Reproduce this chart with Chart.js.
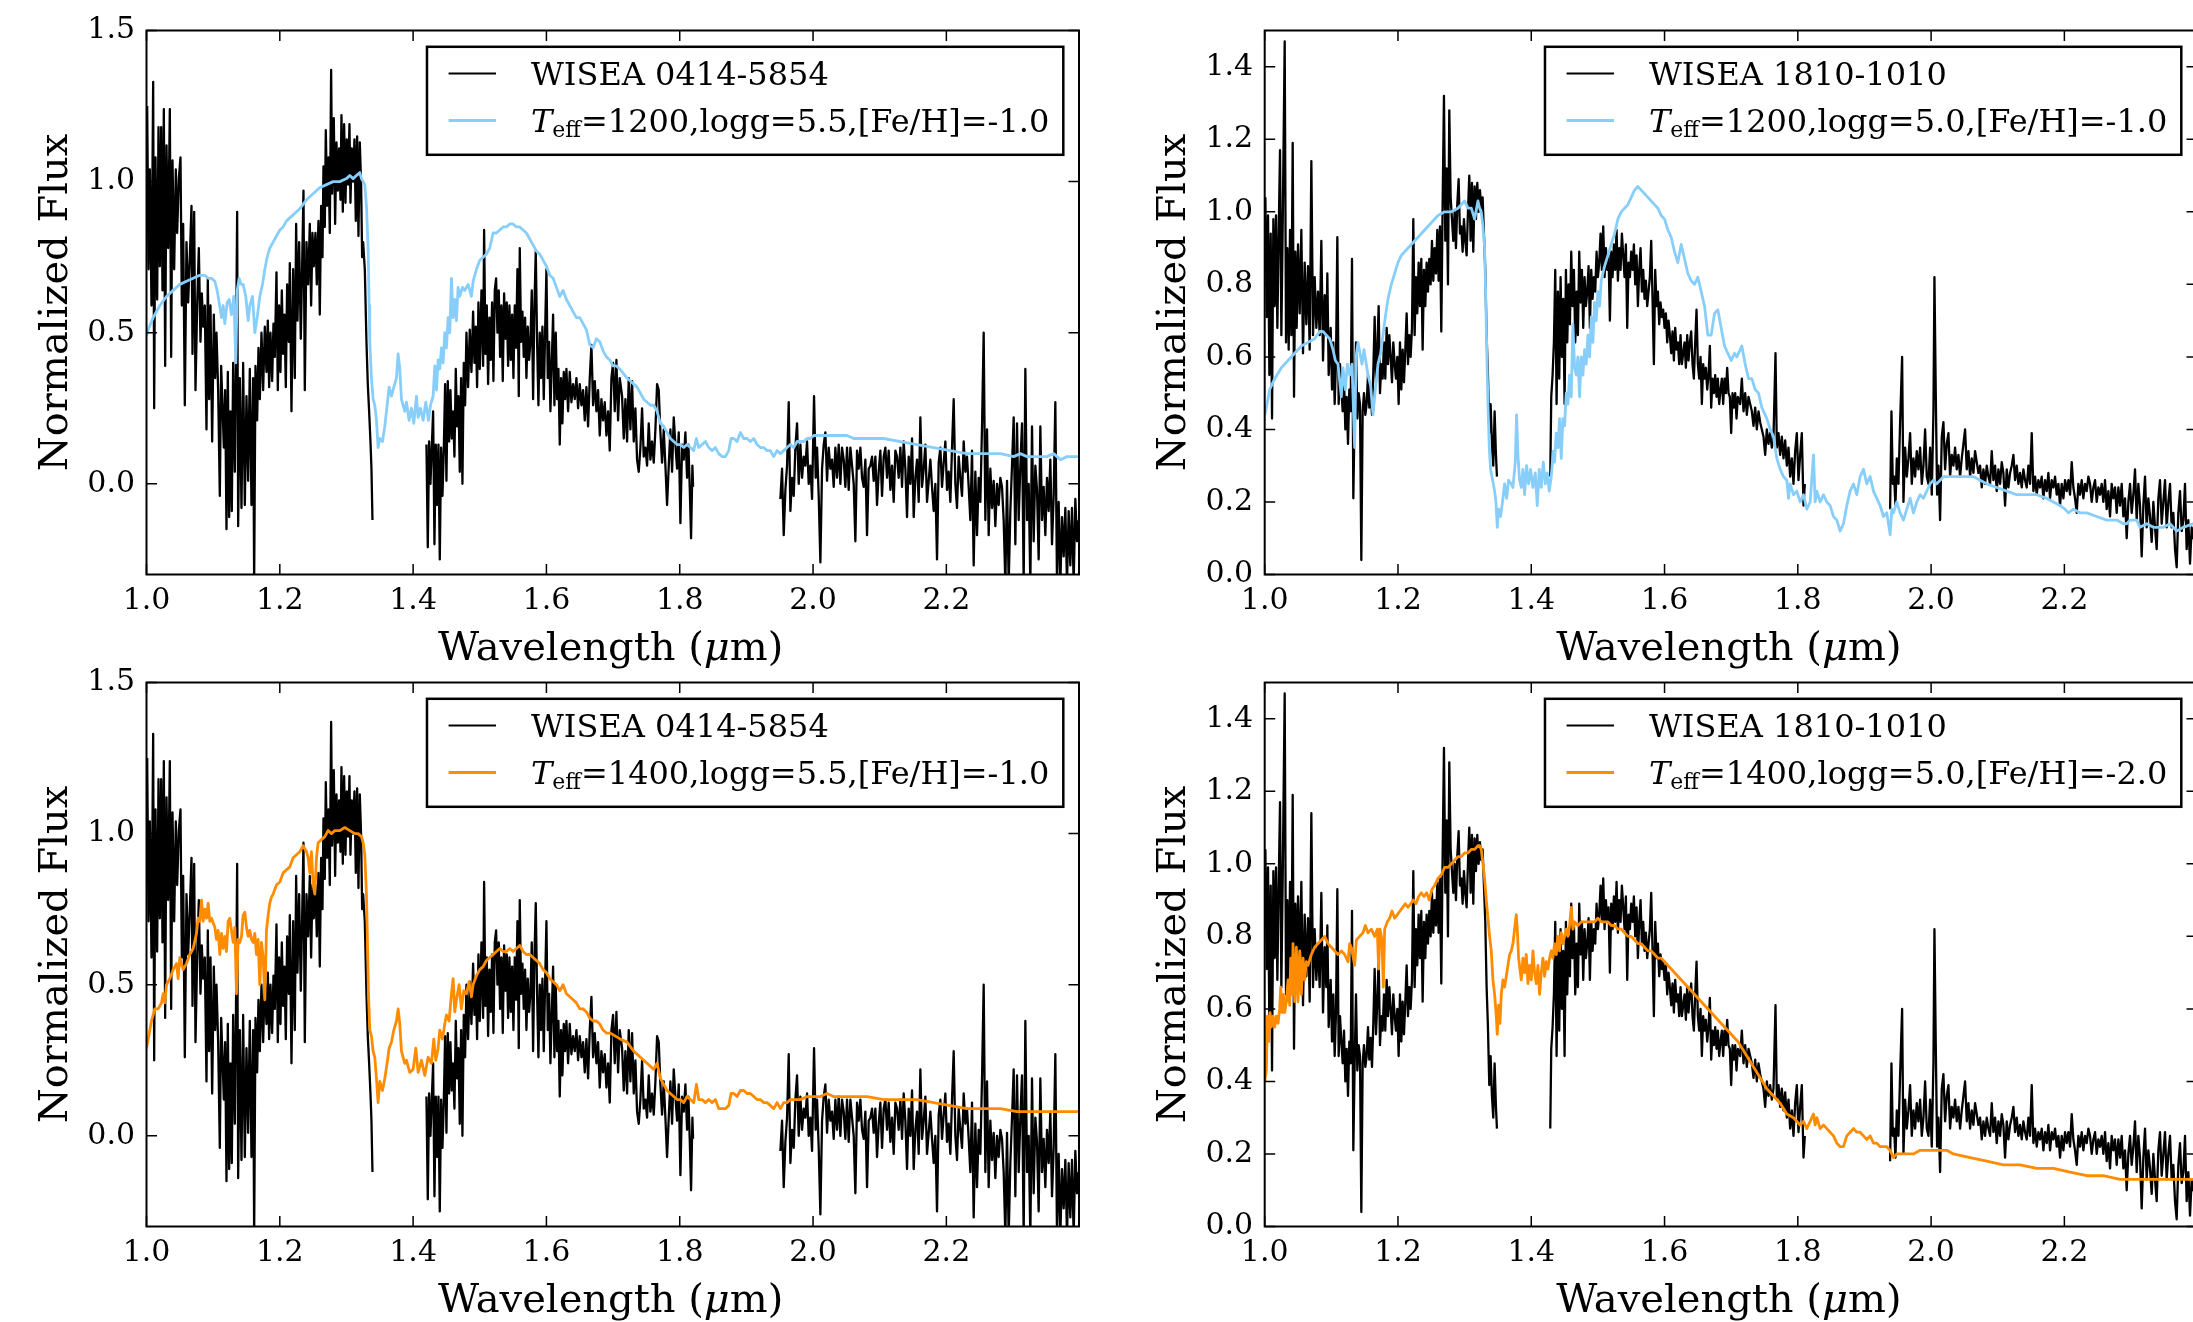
<!DOCTYPE html>
<html>
<head>
<meta charset="utf-8">
<script src="https://cdn.jsdelivr.net/npm/chart.js@4.4.1/dist/chart.umd.min.js"></script>
<style>
  html, body { margin: 0; padding: 0; background: #fff; overflow: hidden; width: 2193px; height: 1322px; }
  canvas { position: absolute; }
</style>
</head>
<body>
<canvas id="tl" width="1100" height="670" style="left:0px;top:0px"></canvas>
<canvas id="tr" width="1100" height="670" style="left:1118px;top:0px"></canvas>
<canvas id="bl" width="1100" height="670" style="left:0px;top:652px"></canvas>
<canvas id="br" width="1100" height="670" style="left:1118px;top:652px"></canvas>
<script>
// tick values
const xTicks = [1.0, 1.2, 1.4, 1.6, 1.8, 2.0, 2.2];
const yTicksLeft = [0.0, 0.5, 1.0, 1.5];
const yTicksRight = [0.0, 0.2, 0.4, 0.6, 0.8, 1.0, 1.2, 1.4];

// legend texts
const nameObsA = 'WISEA 0414-5854';
const nameObsB = 'WISEA 1810-1010';
const paramsTL = '=1200,logg=5.5,[Fe/H]=-1.0';
const paramsTR = '=1200,logg=5.0,[Fe/H]=-1.0';
const paramsBL = '=1400,logg=5.5,[Fe/H]=-1.0';
const paramsBR = '=1400,logg=5.0,[Fe/H]=-2.0';

// observed spectrum, WISEA 0414-5854 [wavelength um, normalized flux]
const wisea0414 = [
[1.001,1.25],[1.003,0.71],[1.005,1.04],[1.0075,0.59],[1.010,1.33],[1.0115,0.25],[1.0135,1.08],[1.016,0.61],[1.018,1.18],[1.020,0.72],
[1.022,1.18],[1.024,0.64],[1.026,1.24],[1.028,0.39],[1.030,1.12],[1.0325,0.78],[1.035,1.24],[1.037,0.42],[1.039,1.07],[1.0415,0.71],
[1.044,1.04],[1.046,0.83],[1.0485,1.01],[1.051,1.08],[1.053,0.59],[1.055,0.86],[1.0575,0.26],[1.060,0.80],[1.0625,0.60],[1.065,0.75],
[1.0675,0.92],[1.069,0.43],[1.0715,0.90],[1.0735,0.31],[1.076,0.59],[1.0785,0.78],[1.081,0.47],[1.083,0.63],[1.085,0.52],[1.0875,0.59],
[1.090,0.18],[1.092,0.68],[1.094,0.28],[1.096,0.59],[1.0985,0.14],[1.101,0.56],[1.103,0.35],[1.105,0.50],[1.1075,0.31],[1.110,-0.04],
[1.112,0.39],[1.114,0.26],[1.116,0.12],[1.118,0.31],[1.120,-0.15],[1.122,0.37],[1.124,-0.11],[1.126,0.24],[1.128,-0.09],[1.130,0.40],
[1.1325,0.04],[1.134,0.35],[1.136,0.90],[1.1375,-0.14],[1.140,0.35],[1.1425,-0.08],[1.145,0.40],[1.1475,-0.07],[1.150,0.29],[1.1525,0.01],
[1.155,0.38],[1.1575,-0.07],[1.160,0.35],[1.1615,-0.33],[1.1635,0.39],[1.166,0.21],[1.168,0.45],[1.170,0.28],[1.1725,0.50],[1.175,0.31],
[1.1775,0.52],[1.180,0.37],[1.182,0.54],[1.184,0.32],[1.186,0.50],[1.1885,0.34],[1.1905,0.53],[1.1925,0.42],[1.195,0.70],[1.197,0.31],
[1.199,0.59],[1.201,0.37],[1.203,0.64],[1.205,0.43],[1.207,0.56],[1.209,0.32],[1.211,0.66],[1.2135,0.47],[1.215,0.73],[1.2175,0.24],
[1.220,0.71],[1.2225,0.35],[1.2245,0.86],[1.2265,0.54],[1.229,0.80],[1.2315,0.48],[1.2335,0.72],[1.2355,0.97],[1.2375,0.31],[1.240,0.80],
[1.2425,0.66],[1.245,0.86],[1.247,0.59],[1.249,0.83],[1.251,0.72],[1.2535,0.83],[1.2555,0.66],[1.258,0.87],[1.260,0.56],[1.262,0.92],
[1.264,0.75],[1.2655,1.05],[1.2675,0.85],[1.269,1.17],[1.271,0.92],[1.273,1.08],[1.275,0.83],[1.277,1.37],[1.2785,0.96],[1.281,1.21],
[1.283,0.86],[1.285,1.13],[1.287,0.97],[1.289,1.11],[1.291,0.94],[1.2925,1.22],[1.2945,0.90],[1.2965,1.19],[1.2985,0.93],[1.3005,1.14],
[1.3025,0.99],[1.3045,1.19],[1.306,0.93],[1.308,1.11],[1.310,1.00],[1.312,1.14],[1.314,0.87],[1.316,1.15],[1.318,0.82],[1.320,1.13],
[1.322,0.99],[1.3235,0.75],[1.325,0.80],[1.3275,0.71],[1.330,0.47],[1.332,0.33],[1.334,0.24],[1.336,0.14],[1.3375,0.05],[1.339,-0.12],
[1.38,null],
[1.420,0.13],[1.422,-0.21],[1.424,0.14],[1.426,0.00],[1.428,0.12],[1.430,0.24],[1.432,-0.20],[1.434,0.13],[1.436,-0.07],[1.438,0.13],
[1.440,-0.25],[1.442,0.12],[1.444,-0.04],[1.446,0.11],[1.448,0.33],[1.450,0.01],[1.452,0.34],[1.454,0.14],[1.456,0.31],[1.458,0.15],
[1.460,0.24],[1.462,0.09],[1.464,0.38],[1.466,0.19],[1.468,0.29],[1.470,0.04],[1.472,0.35],[1.474,0.00],[1.476,0.40],[1.478,0.26],
[1.480,0.50],[1.4825,0.32],[1.485,0.51],[1.4875,0.37],[1.490,0.57],[1.492,0.40],[1.494,0.52],[1.496,0.32],[1.498,0.60],[1.500,0.38],
[1.5025,0.64],[1.505,0.39],[1.5065,0.84],[1.5085,0.43],[1.5105,0.59],[1.5125,0.33],[1.5145,0.55],[1.5165,0.41],[1.5185,0.60],[1.5205,0.34],
[1.5225,0.64],[1.5245,0.68],[1.5265,0.50],[1.5285,0.64],[1.5305,0.42],[1.5325,0.59],[1.5345,0.34],[1.5365,0.63],[1.5385,0.48],[1.5405,0.60],
[1.5425,0.39],[1.5445,0.59],[1.5465,0.41],[1.5485,0.56],[1.5505,0.35],[1.5525,0.59],[1.5545,0.45],[1.5565,0.71],[1.5585,0.29],[1.560,0.78],
[1.562,0.47],[1.564,0.57],[1.566,0.42],[1.568,0.55],[1.570,0.35],[1.572,0.52],[1.574,0.41],[1.576,0.47],[1.578,0.64],[1.580,0.28],
[1.582,0.59],[1.584,0.77],[1.586,0.47],[1.588,0.26],[1.590,0.50],[1.592,0.35],[1.594,0.52],[1.596,0.28],[1.598,0.50],[1.600,0.71],
[1.602,0.35],[1.604,0.47],[1.606,0.24],[1.608,0.40],[1.610,0.56],[1.612,0.26],[1.614,0.50],[1.616,0.28],[1.618,0.38],[1.620,0.13],
[1.622,0.35],[1.624,0.20],[1.626,0.37],[1.628,0.28],[1.630,0.38],[1.6325,0.24],[1.635,0.37],[1.6375,0.27],[1.640,0.33],[1.6425,0.28],
[1.645,0.35],[1.6475,0.25],[1.650,0.33],[1.6525,0.26],[1.655,0.31],[1.6575,0.21],[1.660,0.32],[1.6625,0.19],[1.665,0.35],[1.6675,0.46],
[1.670,0.26],[1.6725,0.34],[1.675,0.24],[1.6775,0.31],[1.680,0.16],[1.6825,0.28],[1.685,0.21],[1.6875,0.27],[1.690,0.16],[1.6925,0.24],
[1.695,0.11],[1.6975,0.35],[1.700,0.40],[1.7025,0.24],[1.705,0.41],[1.7075,0.21],[1.710,0.35],[1.7135,0.29],[1.716,0.15],[1.7185,0.28],
[1.721,0.14],[1.7235,0.35],[1.726,0.18],[1.7285,0.34],[1.731,0.14],[1.7335,0.25],[1.736,0.08],[1.7385,0.04],[1.741,0.12],[1.7435,0.25],
[1.746,0.09],[1.7485,0.12],[1.751,0.06],[1.7535,0.20],[1.756,0.08],[1.7585,0.14],[1.761,0.07],[1.7635,0.18],[1.766,0.33],[1.7685,0.31],
[1.771,0.17],[1.7735,0.07],[1.776,0.18],[1.7785,0.06],[1.781,-0.07],[1.7835,0.06],[1.786,0.18],[1.7885,0.04],[1.791,0.22],[1.7935,0.13],
[1.796,0.05],[1.7985,0.17],[1.801,-0.13],[1.8035,0.13],[1.806,0.08],[1.8085,0.17],[1.811,0.02],[1.813,0.13],[1.815,-0.01],[1.817,-0.18],
[1.819,0.06],[1.820,-0.01],
[1.885,null],
[1.951,-0.05],[1.9535,0.05],[1.956,-0.17],[1.9585,-0.02],[1.961,0.06],[1.9635,0.27],[1.966,-0.09],[1.9685,0.02],[1.971,-0.04],[1.9735,0.12],
[1.976,0.20],[1.9785,0.00],[1.981,0.13],[1.9835,0.02],[1.986,0.09],[1.9885,0.06],[1.991,0.14],[1.9935,0.00],[1.996,0.06],[1.9985,-0.05],
[2.0015,0.29],[2.004,0.02],[2.006,0.12],[2.0085,-0.04],[2.011,-0.26],[2.0135,0.05],[2.016,0.13],[2.0185,0.17],[2.021,0.01],[2.0235,0.12],
[2.026,0.05],[2.0285,0.08],[2.031,-0.01],[2.0335,0.12],[2.036,0.02],[2.0385,0.13],[2.041,0.00],[2.0435,0.12],[2.046,0.08],[2.0485,-0.01],
[2.051,0.12],[2.0535,-0.02],[2.056,0.12],[2.0585,0.06],[2.061,0.00],[2.0635,-0.19],[2.066,0.11],[2.0685,0.05],[2.071,0.12],[2.0735,0.02],
[2.076,-0.01],[2.0785,0.08],[2.081,-0.17],[2.0835,0.05],[2.086,0.06],[2.0885,0.09],[2.091,0.01],[2.0935,0.09],[2.096,-0.07],[2.0985,0.04],
[2.101,0.11],[2.1035,-0.04],[2.106,0.09],[2.1085,0.12],[2.111,0.02],[2.1135,0.11],[2.116,-0.02],[2.1185,0.06],[2.121,-0.06],[2.1235,0.11],
[2.126,0.09],[2.1285,0.02],[2.131,0.12],[2.1335,-0.01],[2.136,0.14],[2.1385,0.05],[2.141,-0.11],[2.1435,0.09],[2.146,0.00],[2.1485,0.15],
[2.151,-0.11],[2.1535,0.02],[2.156,0.08],[2.1585,-0.06],[2.161,0.22],[2.1635,-0.01],[2.166,0.05],[2.1685,0.13],[2.171,-0.06],[2.1735,0.01],
[2.176,0.08],[2.1785,-0.01],[2.181,-0.09],[2.1835,0.00],[2.186,-0.25],[2.1885,0.07],[2.191,0.12],[2.1935,-0.01],[2.196,0.07],[2.1985,0.14],
[2.201,-0.02],[2.2035,0.04],[2.206,-0.06],[2.2085,0.12],[2.211,0.28],[2.2135,0.00],[2.216,-0.08],[2.2185,0.09],[2.221,0.02],[2.2235,-0.04],
[2.226,0.14],[2.2285,0.04],[2.231,0.09],[2.2335,-0.01],[2.236,-0.12],[2.2385,0.11],[2.241,-0.27],[2.2435,0.04],[2.246,-0.17],[2.2485,0.02],
[2.251,-0.06],[2.2535,0.19],[2.256,0.50],[2.2585,-0.12],[2.261,0.18],[2.2635,-0.17],[2.266,0.05],[2.2685,-0.08],[2.271,0.01],[2.2735,-0.14],
[2.276,0.00],[2.2785,-0.07],[2.281,0.02],[2.2835,-0.01],[2.286,-0.12],[2.2885,-0.33],[2.291,0.01],[2.2935,-0.33],[2.296,-0.09],[2.2985,0.06],
[2.301,0.22],[2.3035,-0.20],[2.306,0.20],[2.3085,-0.12],[2.311,0.06],[2.3135,0.20],[2.316,-0.33],[2.3185,0.38],[2.321,-0.12],[2.3235,0.00],
[2.326,-0.33],[2.3285,0.19],[2.331,-0.19],[2.3335,0.06],[2.336,-0.02],[2.3385,-0.25],[2.341,0.19],[2.3435,-0.12],[2.346,-0.01],[2.3485,-0.17],
[2.351,0.02],[2.3535,-0.09],[2.356,0.08],[2.3585,-0.20],[2.361,-0.04],[2.3635,0.27],[2.366,-0.33],[2.3685,-0.06],[2.371,-0.33],[2.3735,-0.11],
[2.376,-0.24],[2.3785,-0.08],[2.381,-0.33],[2.3835,-0.09],[2.386,-0.27],[2.3885,-0.08],[2.391,-0.33],[2.3935,-0.05],[2.396,-0.19],[2.3985,-0.12]
];

// observed spectrum, WISEA 1810-1010
const wisea1810 = [
[1.001,1.04],[1.003,0.71],[1.005,0.99],[1.007,0.55],[1.009,0.94],[1.011,0.43],[1.013,0.98],[1.015,0.74],[1.017,0.99],[1.019,0.68],
[1.021,0.94],[1.023,1.17],[1.025,0.66],[1.027,0.96],[1.030,1.47],[1.032,0.64],[1.034,0.90],[1.036,0.62],[1.038,0.95],[1.040,0.66],
[1.042,1.19],[1.044,0.49],[1.046,0.89],[1.048,0.68],[1.050,0.91],[1.0525,0.72],[1.055,0.95],[1.0575,0.61],[1.060,0.86],[1.0625,0.69],
[1.065,0.85],[1.0675,0.62],[1.070,1.14],[1.0725,0.66],[1.075,0.82],[1.0775,0.68],[1.080,0.78],[1.0825,0.66],[1.085,0.92],[1.0875,0.59],
[1.090,0.77],[1.0925,0.66],[1.094,0.83],[1.096,0.55],[1.099,0.68],[1.101,0.51],[1.103,0.64],[1.105,0.47],[1.107,0.59],[1.109,0.93],
[1.111,0.47],[1.113,0.58],[1.115,0.51],[1.117,0.45],[1.119,0.54],[1.121,0.40],[1.123,0.49],[1.125,0.36],[1.127,0.51],[1.129,0.45],
[1.131,0.87],[1.133,0.21],[1.135,0.45],[1.137,0.64],[1.139,0.43],[1.141,0.50],[1.143,0.47],[1.145,0.04],[1.147,0.45],[1.149,0.50],
[1.151,0.44],[1.153,0.47],[1.155,0.55],[1.157,0.46],[1.159,0.52],[1.161,0.44],[1.163,0.56],[1.165,0.71],[1.167,0.53],[1.169,0.62],
[1.171,0.74],[1.173,0.50],[1.175,0.58],[1.177,0.54],[1.179,0.64],[1.181,0.54],[1.183,0.68],[1.185,0.58],[1.187,0.66],[1.189,0.60],
[1.191,0.53],[1.193,0.64],[1.195,0.58],[1.197,0.54],[1.199,0.60],[1.201,0.47],[1.203,0.64],[1.205,0.51],[1.207,0.62],[1.209,0.53],
[1.211,0.62],[1.213,0.72],[1.215,0.58],[1.217,0.66],[1.219,0.60],[1.221,0.68],[1.223,0.98],[1.225,0.66],[1.227,0.82],[1.229,0.72],
[1.231,0.86],[1.233,0.74],[1.235,0.87],[1.237,0.62],[1.239,0.84],[1.241,0.74],[1.243,0.86],[1.245,0.78],[1.247,0.87],[1.249,0.80],
[1.251,0.92],[1.253,0.81],[1.255,0.90],[1.257,0.83],[1.259,0.95],[1.261,0.81],[1.263,0.96],[1.265,0.67],[1.267,1.02],[1.269,1.32],
[1.271,0.92],[1.273,1.12],[1.275,0.80],[1.277,1.28],[1.279,1.04],[1.281,0.98],[1.283,0.92],[1.285,1.00],[1.287,0.90],[1.289,1.02],
[1.291,1.09],[1.293,0.94],[1.295,0.96],[1.297,0.89],[1.299,0.98],[1.301,0.92],[1.303,0.88],[1.305,1.00],[1.307,1.10],[1.309,0.92],
[1.311,1.08],[1.313,0.89],[1.315,1.07],[1.317,0.98],[1.319,1.08],[1.321,1.00],[1.323,1.06],[1.325,1.01],[1.327,1.04],[1.329,0.94],
[1.331,0.84],[1.333,0.66],[1.335,0.55],[1.337,0.39],[1.339,0.47],[1.341,0.36],[1.343,0.30],[1.345,0.45],[1.347,0.33],[1.3485,0.27],
[1.38,null],
[1.4285,0.27],[1.430,0.49],[1.432,0.55],[1.434,0.64],[1.436,0.84],[1.438,0.47],[1.440,0.78],[1.442,0.54],[1.444,0.82],[1.446,0.60],
[1.448,0.76],[1.450,0.47],[1.452,0.84],[1.454,0.64],[1.456,0.80],[1.458,0.69],[1.460,0.89],[1.462,0.74],[1.464,0.84],[1.466,0.64],
[1.468,0.78],[1.470,0.66],[1.472,0.89],[1.474,0.75],[1.476,0.84],[1.478,0.68],[1.480,0.82],[1.482,0.74],[1.484,0.78],[1.486,0.85],
[1.488,0.68],[1.490,0.84],[1.492,0.76],[1.494,0.82],[1.496,0.78],[1.498,0.89],[1.500,0.82],[1.502,0.86],[1.504,0.94],[1.506,0.84],
[1.508,0.96],[1.510,0.82],[1.512,0.90],[1.514,0.84],[1.516,0.88],[1.518,0.70],[1.520,0.89],[1.522,0.82],[1.524,0.91],[1.526,0.84],
[1.528,0.95],[1.530,0.81],[1.532,0.90],[1.534,0.84],[1.536,0.94],[1.538,0.88],[1.540,0.82],[1.542,0.91],[1.544,0.68],[1.546,0.86],
[1.548,0.82],[1.550,0.89],[1.552,0.84],[1.554,0.91],[1.556,0.80],[1.558,0.88],[1.560,0.74],[1.562,0.84],[1.564,0.90],[1.566,0.78],
[1.568,0.84],[1.570,0.76],[1.572,0.81],[1.574,0.74],[1.576,0.78],[1.578,0.82],[1.580,0.92],[1.582,0.76],[1.584,0.58],[1.586,0.84],
[1.588,0.74],[1.590,0.78],[1.592,0.69],[1.594,0.75],[1.596,0.71],[1.598,0.73],[1.600,0.68],[1.602,0.72],[1.604,0.64],[1.606,0.70],
[1.608,0.66],[1.610,0.61],[1.612,0.67],[1.614,0.59],[1.616,0.68],[1.618,0.62],[1.620,0.64],[1.622,0.58],[1.624,0.66],[1.626,0.58],
[1.628,0.61],[1.630,0.64],[1.632,0.57],[1.634,0.66],[1.636,0.59],[1.638,0.64],[1.640,0.67],[1.642,0.58],[1.644,0.54],[1.646,0.64],
[1.648,0.73],[1.650,0.58],[1.652,0.54],[1.654,0.60],[1.656,0.47],[1.658,0.58],[1.660,0.54],[1.662,0.57],[1.664,0.51],[1.666,0.55],
[1.668,0.63],[1.670,0.46],[1.672,0.54],[1.674,0.50],[1.676,0.55],[1.678,0.49],[1.680,0.54],[1.682,0.47],[1.684,0.51],[1.686,0.54],
[1.688,0.47],[1.690,0.54],[1.692,0.50],[1.694,0.57],[1.696,0.50],[1.698,0.49],[1.700,0.39],[1.702,0.50],[1.704,0.46],[1.706,0.50],
[1.708,0.43],[1.710,0.49],[1.7135,0.47],[1.716,0.54],[1.7185,0.45],[1.721,0.50],[1.7235,0.44],[1.726,0.49],[1.7285,0.47],[1.731,0.45],
[1.7335,0.41],[1.736,0.46],[1.7385,0.40],[1.741,0.45],[1.7435,0.42],[1.746,0.40],[1.7485,0.38],[1.751,0.33],[1.7535,0.40],[1.756,0.36],
[1.7585,0.39],[1.761,0.35],[1.7635,0.38],[1.7665,0.61],[1.7685,0.35],[1.771,0.39],[1.7735,0.33],[1.776,0.38],[1.7785,0.32],[1.781,0.37],
[1.7835,0.30],[1.786,0.35],[1.7885,0.27],[1.791,0.32],[1.7935,0.25],[1.796,0.34],[1.7985,0.39],[1.801,0.26],[1.8035,0.33],[1.806,0.39],
[1.8085,0.19],[1.8105,0.25],
[1.87,null],
[1.9385,0.18],[1.9405,0.45],[1.9425,0.25],[1.9445,0.27],[1.9465,0.19],[1.9485,0.32],[1.951,0.25],[1.9535,0.42],[1.9565,0.60],[1.9585,0.20],
[1.961,0.35],[1.9635,0.27],[1.966,0.32],[1.9685,0.39],[1.971,0.25],[1.9735,0.32],[1.976,0.27],[1.9785,0.34],[1.981,0.29],[1.9835,0.35],
[1.986,0.25],[1.9885,0.30],[1.991,0.40],[1.9935,0.27],[1.996,0.25],[1.9985,0.35],[2.001,0.22],[2.0035,0.45],[2.005,0.82],[2.007,0.50],
[2.009,0.22],[2.011,0.30],[2.0135,0.15],[2.016,0.38],[2.0185,0.42],[2.021,0.29],[2.0235,0.36],[2.026,0.39],[2.0285,0.27],[2.031,0.33],
[2.0335,0.30],[2.036,0.35],[2.0385,0.29],[2.041,0.33],[2.0435,0.27],[2.046,0.32],[2.0485,0.36],[2.051,0.40],[2.0535,0.29],[2.056,0.34],
[2.0585,0.27],[2.061,0.32],[2.0635,0.28],[2.066,0.34],[2.0685,0.31],[2.071,0.28],[2.0735,0.30],[2.076,0.24],[2.0785,0.29],[2.081,0.25],
[2.0835,0.30],[2.086,0.27],[2.0885,0.25],[2.091,0.34],[2.0935,0.26],[2.096,0.30],[2.0985,0.23],[2.101,0.29],[2.1035,0.25],[2.106,0.31],
[2.1085,0.28],[2.111,0.19],[2.1135,0.29],[2.116,0.24],[2.1185,0.28],[2.121,0.30],[2.1235,0.33],[2.126,0.26],[2.1285,0.30],[2.131,0.25],
[2.1335,0.28],[2.136,0.24],[2.1385,0.29],[2.141,0.26],[2.1435,0.24],[2.146,0.30],[2.1485,0.25],[2.151,0.39],[2.1535,0.23],[2.156,0.27],
[2.1585,0.22],[2.161,0.26],[2.1635,0.24],[2.166,0.27],[2.1685,0.21],[2.171,0.26],[2.1735,0.23],[2.176,0.28],[2.1785,0.21],[2.181,0.26],
[2.1835,0.24],[2.186,0.27],[2.1885,0.22],[2.191,0.25],[2.1935,0.19],[2.196,0.25],[2.1985,0.21],[2.201,0.26],[2.2035,0.23],[2.206,0.26],
[2.2085,0.22],[2.211,0.31],[2.2135,0.24],[2.216,0.21],[2.2185,0.17],[2.221,0.25],[2.2235,0.22],[2.226,0.26],[2.2285,0.21],[2.231,0.25],
[2.2335,0.23],[2.236,0.27],[2.2385,0.25],[2.241,0.20],[2.2435,0.24],[2.246,0.26],[2.2485,0.20],[2.251,0.24],[2.2535,0.22],[2.256,0.25],
[2.2585,0.20],[2.261,0.26],[2.2635,0.18],[2.266,0.23],[2.2685,0.16],[2.271,0.25],[2.2735,0.21],[2.276,0.24],[2.2785,0.17],[2.281,0.24],
[2.2835,0.19],[2.286,0.25],[2.2885,0.16],[2.291,0.21],[2.2935,0.10],[2.296,0.20],[2.2985,0.25],[2.301,0.17],[2.3035,0.22],[2.306,0.29],
[2.3085,0.15],[2.311,0.25],[2.3135,0.19],[2.316,0.05],[2.3185,0.19],[2.321,0.27],[2.3235,0.13],[2.326,0.21],[2.3285,0.16],[2.331,0.09],
[2.3335,0.20],[2.336,0.13],[2.3385,0.07],[2.341,0.21],[2.3435,0.26],[2.346,0.14],[2.3485,0.20],[2.351,0.26],[2.3535,0.13],[2.356,0.20],
[2.3585,0.25],[2.361,0.13],[2.3635,0.17],[2.366,0.07],[2.3685,0.02],[2.371,0.17],[2.3735,0.23],[2.376,0.12],[2.3785,0.15],[2.381,0.25],
[2.3835,0.07],[2.386,0.15],[2.3885,0.03],[2.391,0.13],[2.393,0.10],[2.397,0.16]
];

// model, Teff=1200, logg=5.5, [Fe/H]=-1.0
const model1200g55 = [
[1.000,0.49],[1.0025,0.51],[1.010,0.55],[1.020,0.59],[1.030,0.62],[1.040,0.64],[1.050,0.66],[1.060,0.67],[1.070,0.68],[1.080,0.69],
[1.0875,0.69],[1.0925,0.68],[1.0975,0.68],[1.1025,0.67],[1.106,0.64],[1.109,0.60],[1.1125,0.55],[1.115,0.59],[1.1175,0.53],[1.121,0.60],
[1.124,0.61],[1.1275,0.56],[1.131,0.62],[1.134,0.40],[1.136,0.64],[1.139,0.68],[1.142,0.66],[1.145,0.66],[1.149,0.62],[1.1525,0.54],
[1.155,0.59],[1.159,0.62],[1.1625,0.50],[1.166,0.55],[1.170,0.62],[1.174,0.66],[1.1775,0.71],[1.181,0.75],[1.185,0.78],[1.190,0.80],
[1.195,0.82],[1.200,0.84],[1.205,0.85],[1.210,0.87],[1.220,0.89],[1.230,0.91],[1.240,0.94],[1.250,0.96],[1.260,0.98],[1.270,0.99],
[1.280,1.00],[1.290,1.00],[1.300,1.01],[1.305,1.02],[1.310,1.01],[1.315,1.02],[1.320,1.03],[1.3225,1.01],[1.325,1.00],[1.3275,0.99],
[1.330,0.92],[1.3325,0.78],[1.334,0.59],[1.335,0.47],[1.3375,0.35],[1.340,0.28],[1.3425,0.26],[1.345,0.21],[1.3475,0.12],[1.350,0.15],
[1.354,0.14],[1.3575,0.19],[1.361,0.26],[1.364,0.32],[1.3675,0.29],[1.371,0.32],[1.375,0.35],[1.3775,0.43],[1.380,0.38],[1.3825,0.28],
[1.385,0.26],[1.3875,0.24],[1.390,0.27],[1.394,0.21],[1.3975,0.25],[1.401,0.20],[1.405,0.29],[1.4075,0.22],[1.411,0.25],[1.415,0.21],
[1.419,0.27],[1.423,0.21],[1.426,0.26],[1.430,0.29],[1.4325,0.39],[1.435,0.31],[1.4375,0.41],[1.440,0.38],[1.4425,0.45],[1.445,0.40],
[1.4475,0.50],[1.450,0.45],[1.4525,0.55],[1.455,0.50],[1.4575,0.68],[1.460,0.55],[1.4625,0.61],[1.465,0.54],[1.4675,0.65],[1.470,0.62],
[1.474,0.65],[1.4775,0.64],[1.4825,0.66],[1.4875,0.62],[1.490,0.67],[1.495,0.71],[1.500,0.74],[1.505,0.75],[1.510,0.76],[1.515,0.78],
[1.520,0.83],[1.525,0.83],[1.530,0.84],[1.535,0.85],[1.540,0.85],[1.545,0.86],[1.550,0.86],[1.555,0.85],[1.560,0.85],[1.565,0.84],
[1.570,0.83],[1.575,0.81],[1.580,0.79],[1.585,0.77],[1.590,0.76],[1.595,0.74],[1.600,0.72],[1.605,0.69],[1.610,0.68],[1.615,0.65],
[1.620,0.62],[1.625,0.64],[1.630,0.61],[1.635,0.59],[1.640,0.57],[1.645,0.55],[1.650,0.55],[1.655,0.53],[1.660,0.51],[1.665,0.46],
[1.670,0.45],[1.675,0.48],[1.680,0.47],[1.685,0.44],[1.690,0.42],[1.695,0.41],[1.700,0.39],[1.705,0.39],[1.710,0.38],[1.721,0.35],
[1.726,0.34],[1.731,0.33],[1.736,0.32],[1.741,0.30],[1.746,0.28],[1.751,0.27],[1.756,0.26],[1.761,0.26],[1.766,0.24],[1.771,0.20],
[1.776,0.19],[1.781,0.17],[1.786,0.15],[1.791,0.14],[1.796,0.13],[1.801,0.13],[1.806,0.12],[1.811,0.13],[1.816,0.12],[1.821,0.11],
[1.825,0.15],[1.8285,0.12],[1.8335,0.13],[1.8385,0.14],[1.8435,0.12],[1.8485,0.11],[1.8535,0.12],[1.8585,0.10],[1.8635,0.09],[1.8685,0.09],
[1.8735,0.11],[1.877,0.15],[1.881,0.15],[1.886,0.14],[1.891,0.17],[1.896,0.15],[1.901,0.15],[1.906,0.14],[1.911,0.15],[1.916,0.13],
[1.921,0.12],[1.926,0.12],[1.931,0.11],[1.936,0.11],[1.941,0.09],[1.946,0.11],[1.951,0.10],[1.956,0.11],[1.961,0.12],[1.966,0.13],
[1.971,0.12],[1.976,0.14],[1.981,0.14],[1.986,0.14],[1.991,0.15],[1.996,0.15],[2.001,0.16],[2.011,0.16],[2.021,0.16],[2.031,0.16],
[2.041,0.16],[2.051,0.16],[2.061,0.15],[2.081,0.15],[2.106,0.15],[2.131,0.14],[2.156,0.13],[2.181,0.12],[2.206,0.11],[2.231,0.10],
[2.256,0.10],[2.281,0.10],[2.301,0.09],[2.311,0.10],[2.321,0.09],[2.331,0.09],[2.351,0.09],[2.361,0.10],[2.371,0.08],[2.381,0.09],
[2.399,0.09]
];

// model, Teff=1400, logg=5.5, [Fe/H]=-1.0
const model1400g55 = [
[1.000,0.29],[1.0025,0.32],[1.0075,0.38],[1.0125,0.42],[1.0175,0.42],[1.0225,0.44],[1.025,0.47],[1.0275,0.44],[1.030,0.50],[1.035,0.52],
[1.040,0.55],[1.045,0.57],[1.0475,0.52],[1.050,0.59],[1.055,0.55],[1.060,0.57],[1.065,0.60],[1.070,0.62],[1.075,0.67],[1.0775,0.72],
[1.080,0.71],[1.0825,0.78],[1.085,0.71],[1.0875,0.75],[1.090,0.72],[1.0925,0.77],[1.095,0.71],[1.0975,0.72],[1.1025,0.69],[1.105,0.65],
[1.1075,0.68],[1.110,0.60],[1.1125,0.67],[1.115,0.62],[1.1175,0.66],[1.120,0.61],[1.1225,0.71],[1.125,0.72],[1.1275,0.68],[1.130,0.64],
[1.1325,0.69],[1.135,0.47],[1.1375,0.65],[1.140,0.64],[1.1425,0.66],[1.145,0.73],[1.1475,0.74],[1.150,0.69],[1.1525,0.66],[1.155,0.68],
[1.1575,0.65],[1.160,0.64],[1.1625,0.67],[1.165,0.60],[1.1675,0.65],[1.170,0.50],[1.1725,0.64],[1.175,0.59],[1.1775,0.45],[1.180,0.68],
[1.1825,0.73],[1.185,0.77],[1.1875,0.79],[1.190,0.80],[1.195,0.83],[1.200,0.84],[1.205,0.87],[1.210,0.88],[1.215,0.89],[1.220,0.92],
[1.225,0.93],[1.230,0.94],[1.235,0.96],[1.240,0.94],[1.2425,0.92],[1.245,0.87],[1.2475,0.94],[1.250,0.83],[1.2525,0.80],[1.255,0.92],
[1.2575,0.97],[1.2625,0.98],[1.2675,0.99],[1.2725,1.01],[1.2775,1.00],[1.2825,1.01],[1.290,1.01],[1.2975,1.02],[1.305,1.01],[1.3125,1.00],
[1.3175,1.00],[1.3225,0.99],[1.325,0.97],[1.3275,0.93],[1.330,0.80],[1.3315,0.64],[1.333,0.47],[1.335,0.35],[1.3375,0.33],[1.340,0.28],
[1.3425,0.26],[1.345,0.19],[1.3475,0.11],[1.350,0.18],[1.354,0.15],[1.3575,0.19],[1.361,0.24],[1.364,0.29],[1.3675,0.31],[1.371,0.35],
[1.375,0.38],[1.3775,0.42],[1.380,0.37],[1.3825,0.28],[1.385,0.26],[1.3875,0.24],[1.390,0.25],[1.395,0.21],[1.400,0.22],[1.404,0.29],
[1.4075,0.21],[1.4125,0.25],[1.4175,0.20],[1.4225,0.26],[1.4275,0.24],[1.431,0.32],[1.434,0.25],[1.4375,0.29],[1.440,0.35],[1.444,0.32],
[1.4475,0.37],[1.450,0.40],[1.454,0.38],[1.4575,0.47],[1.460,0.52],[1.4625,0.41],[1.465,0.45],[1.469,0.50],[1.4725,0.42],[1.476,0.48],
[1.480,0.47],[1.484,0.51],[1.4875,0.46],[1.490,0.50],[1.495,0.53],[1.500,0.55],[1.505,0.56],[1.510,0.58],[1.515,0.59],[1.520,0.60],
[1.525,0.61],[1.530,0.62],[1.535,0.61],[1.540,0.61],[1.545,0.62],[1.550,0.61],[1.555,0.62],[1.560,0.63],[1.565,0.61],[1.570,0.60],
[1.575,0.60],[1.580,0.59],[1.585,0.58],[1.590,0.57],[1.595,0.55],[1.600,0.54],[1.605,0.52],[1.610,0.51],[1.615,0.50],[1.620,0.48],
[1.625,0.50],[1.630,0.47],[1.635,0.46],[1.640,0.45],[1.645,0.44],[1.650,0.42],[1.655,0.42],[1.660,0.41],[1.665,0.39],[1.670,0.38],
[1.675,0.38],[1.680,0.37],[1.685,0.35],[1.690,0.34],[1.696,0.34],[1.711,0.32],[1.721,0.31],[1.731,0.28],[1.741,0.26],[1.751,0.24],
[1.761,0.22],[1.766,0.24],[1.771,0.19],[1.776,0.17],[1.781,0.15],[1.786,0.14],[1.791,0.13],[1.796,0.12],[1.801,0.12],[1.806,0.11],
[1.811,0.13],[1.816,0.12],[1.821,0.11],[1.825,0.17],[1.8285,0.12],[1.8335,0.12],[1.8385,0.11],[1.8435,0.12],[1.8485,0.11],[1.8535,0.12],
[1.8585,0.09],[1.8635,0.09],[1.8685,0.09],[1.8735,0.10],[1.877,0.14],[1.881,0.14],[1.886,0.13],[1.891,0.15],[1.896,0.15],[1.901,0.14],
[1.906,0.14],[1.911,0.13],[1.916,0.12],[1.921,0.12],[1.926,0.11],[1.931,0.11],[1.936,0.10],[1.941,0.09],[1.946,0.11],[1.951,0.09],
[1.956,0.11],[1.961,0.11],[1.966,0.12],[1.971,0.12],[1.981,0.12],[1.991,0.13],[2.001,0.13],[2.011,0.13],[2.021,0.14],[2.031,0.13],
[2.056,0.13],[2.081,0.13],[2.106,0.12],[2.131,0.12],[2.156,0.12],[2.181,0.11],[2.206,0.10],[2.231,0.09],[2.256,0.09],[2.281,0.09],
[2.306,0.08],[2.331,0.08],[2.356,0.08],[2.381,0.08],[2.399,0.08]
];

// model, Teff=1200, logg=5.0, [Fe/H]=-1.0
const model1200g50 = [
[1.000,0.44],[1.0025,0.46],[1.0075,0.51],[1.015,0.54],[1.025,0.57],[1.035,0.59],[1.045,0.61],[1.055,0.63],[1.065,0.64],[1.075,0.65],
[1.0825,0.67],[1.0875,0.67],[1.0925,0.66],[1.0975,0.65],[1.1025,0.62],[1.106,0.59],[1.110,0.58],[1.115,0.49],[1.1175,0.57],[1.121,0.51],
[1.124,0.58],[1.1275,0.55],[1.131,0.58],[1.135,0.35],[1.137,0.60],[1.140,0.64],[1.143,0.61],[1.146,0.58],[1.149,0.62],[1.1525,0.58],
[1.155,0.55],[1.159,0.52],[1.1625,0.44],[1.166,0.51],[1.170,0.58],[1.174,0.61],[1.1775,0.66],[1.181,0.71],[1.185,0.76],[1.190,0.80],
[1.195,0.83],[1.200,0.86],[1.205,0.88],[1.210,0.89],[1.220,0.91],[1.230,0.93],[1.240,0.95],[1.250,0.97],[1.260,0.99],[1.270,1.00],
[1.280,1.00],[1.290,1.01],[1.300,1.03],[1.305,1.01],[1.310,1.01],[1.315,0.98],[1.320,1.03],[1.3225,1.01],[1.325,1.00],[1.3275,0.96],
[1.330,0.90],[1.3315,0.78],[1.333,0.64],[1.335,0.47],[1.337,0.35],[1.339,0.29],[1.341,0.27],[1.343,0.25],[1.345,0.23],[1.347,0.20],
[1.349,0.13],[1.351,0.18],[1.354,0.16],[1.3575,0.21],[1.360,0.25],[1.363,0.21],[1.366,0.26],[1.370,0.25],[1.3725,0.24],[1.376,0.31],
[1.378,0.44],[1.380,0.33],[1.3825,0.26],[1.385,0.24],[1.3875,0.29],[1.390,0.22],[1.393,0.30],[1.396,0.25],[1.399,0.29],[1.4025,0.24],
[1.406,0.28],[1.409,0.19],[1.412,0.29],[1.415,0.24],[1.418,0.31],[1.421,0.25],[1.424,0.28],[1.427,0.23],[1.430,0.27],[1.433,0.34],
[1.435,0.31],[1.4375,0.39],[1.440,0.35],[1.4425,0.43],[1.445,0.32],[1.4475,0.43],[1.450,0.41],[1.4525,0.50],[1.455,0.47],[1.4575,0.55],
[1.460,0.49],[1.4625,0.69],[1.465,0.57],[1.4675,0.55],[1.470,0.60],[1.4725,0.49],[1.475,0.60],[1.4775,0.55],[1.480,0.62],[1.4825,0.58],
[1.485,0.66],[1.4875,0.60],[1.490,0.71],[1.4925,0.64],[1.495,0.75],[1.4975,0.70],[1.500,0.78],[1.5025,0.74],[1.505,0.81],[1.510,0.85],
[1.515,0.88],[1.520,0.91],[1.525,0.94],[1.530,0.98],[1.535,1.00],[1.540,1.01],[1.545,1.02],[1.550,1.04],[1.555,1.06],[1.560,1.07],
[1.565,1.06],[1.570,1.05],[1.575,1.04],[1.580,1.03],[1.585,1.02],[1.590,1.01],[1.595,0.99],[1.600,0.98],[1.605,0.95],[1.610,0.93],
[1.615,0.89],[1.620,0.86],[1.625,0.91],[1.630,0.87],[1.635,0.83],[1.640,0.81],[1.645,0.80],[1.650,0.82],[1.655,0.78],[1.660,0.74],
[1.665,0.66],[1.670,0.66],[1.675,0.72],[1.680,0.73],[1.685,0.68],[1.690,0.63],[1.695,0.61],[1.700,0.59],[1.705,0.61],[1.7085,0.60],
[1.716,0.63],[1.721,0.58],[1.726,0.54],[1.731,0.54],[1.736,0.51],[1.741,0.50],[1.746,0.46],[1.7535,0.43],[1.7585,0.40],[1.7635,0.38],
[1.7685,0.32],[1.7735,0.29],[1.7785,0.27],[1.7835,0.26],[1.786,0.21],[1.7885,0.25],[1.7935,0.22],[1.7985,0.23],[1.8035,0.20],[1.8085,0.22],
[1.8135,0.18],[1.8185,0.20],[1.8235,0.33],[1.826,0.20],[1.8285,0.23],[1.8335,0.20],[1.8385,0.22],[1.8435,0.20],[1.8485,0.19],[1.8535,0.16],
[1.8585,0.15],[1.8635,0.12],[1.8685,0.14],[1.8735,0.19],[1.8785,0.23],[1.8835,0.25],[1.8885,0.22],[1.8935,0.27],[1.8985,0.29],[1.9035,0.25],
[1.9085,0.27],[1.9135,0.23],[1.9185,0.21],[1.9235,0.19],[1.9285,0.16],[1.9335,0.17],[1.9385,0.11],[1.941,0.18],[1.9435,0.17],[1.9485,0.20],
[1.9535,0.17],[1.9585,0.15],[1.9635,0.18],[1.9685,0.21],[1.9735,0.17],[1.9785,0.20],[1.9835,0.22],[1.9885,0.21],[1.9935,0.23],[1.9985,0.25],
[2.0035,0.26],[2.0085,0.25],[2.0135,0.26],[2.0185,0.27],[2.0235,0.27],[2.0335,0.27],[2.0435,0.27],[2.0535,0.27],[2.0635,0.27],[2.0735,0.26],
[2.0835,0.25],[2.0985,0.24],[2.1135,0.23],[2.1285,0.22],[2.1435,0.22],[2.1585,0.22],[2.1735,0.21],[2.1835,0.20],[2.1935,0.19],[2.201,0.18],
[2.206,0.17],[2.2135,0.18],[2.2235,0.17],[2.2335,0.17],[2.2485,0.16],[2.2635,0.15],[2.2785,0.15],[2.2885,0.14],[2.2935,0.14],[2.2985,0.15],
[2.3085,0.15],[2.3135,0.13],[2.3235,0.14],[2.3335,0.13],[2.3485,0.13],[2.3585,0.14],[2.3685,0.12],[2.3785,0.13],[2.393,0.14],[2.399,0.14]
];

// model, Teff=1400, logg=5.0, [Fe/H]=-2.0
const model1400g50 = [
[1.000,0.40],[1.0025,0.43],[1.004,0.58],[1.006,0.51],[1.008,0.59],[1.010,0.55],[1.0125,0.58],[1.015,0.55],[1.0175,0.58],[1.020,0.56],
[1.0225,0.60],[1.024,0.66],[1.026,0.59],[1.028,0.64],[1.030,0.59],[1.0325,0.62],[1.035,0.68],[1.0375,0.61],[1.039,0.74],[1.041,0.64],
[1.0425,0.78],[1.045,0.62],[1.0475,0.77],[1.050,0.62],[1.0525,0.76],[1.055,0.64],[1.0575,0.74],[1.060,0.68],[1.0625,0.73],[1.065,0.72],
[1.070,0.75],[1.075,0.77],[1.080,0.78],[1.085,0.79],[1.090,0.80],[1.095,0.78],[1.100,0.77],[1.105,0.76],[1.110,0.75],[1.115,0.76],
[1.120,0.75],[1.125,0.73],[1.1275,0.78],[1.130,0.77],[1.135,0.72],[1.1375,0.79],[1.1425,0.80],[1.1475,0.81],[1.151,0.83],[1.155,0.81],
[1.160,0.82],[1.165,0.80],[1.169,0.82],[1.171,0.71],[1.173,0.82],[1.176,0.79],[1.178,0.66],[1.180,0.82],[1.184,0.84],[1.1875,0.85],
[1.191,0.87],[1.195,0.85],[1.199,0.86],[1.203,0.87],[1.207,0.88],[1.211,0.89],[1.215,0.88],[1.219,0.89],[1.223,0.90],[1.227,0.89],
[1.231,0.91],[1.235,0.92],[1.239,0.91],[1.243,0.92],[1.247,0.90],[1.251,0.93],[1.255,0.94],[1.260,0.96],[1.265,0.97],[1.270,0.99],
[1.275,0.99],[1.280,1.00],[1.285,1.01],[1.290,1.02],[1.295,1.02],[1.300,1.03],[1.305,1.03],[1.310,1.04],[1.315,1.04],[1.320,1.05],
[1.3225,1.05],[1.325,1.04],[1.3275,1.00],[1.330,0.96],[1.3325,0.90],[1.335,0.85],[1.3375,0.80],[1.340,0.76],[1.3425,0.68],[1.345,0.64],
[1.3475,0.58],[1.349,0.53],[1.351,0.61],[1.353,0.56],[1.355,0.64],[1.3575,0.68],[1.360,0.66],[1.3625,0.69],[1.365,0.72],[1.3675,0.75],
[1.370,0.76],[1.3725,0.78],[1.375,0.82],[1.3775,0.86],[1.379,0.82],[1.381,0.74],[1.383,0.71],[1.385,0.68],[1.3875,0.74],[1.390,0.70],
[1.3925,0.75],[1.395,0.67],[1.3975,0.72],[1.400,0.68],[1.4025,0.76],[1.405,0.70],[1.4075,0.67],[1.410,0.72],[1.4125,0.64],[1.415,0.70],
[1.4175,0.74],[1.420,0.69],[1.4225,0.73],[1.425,0.71],[1.4275,0.74],[1.430,0.76],[1.4325,0.74],[1.435,0.78],[1.4375,0.75],[1.440,0.80],
[1.4425,0.76],[1.445,0.81],[1.4475,0.78],[1.450,0.80],[1.4525,0.82],[1.455,0.80],[1.4575,0.83],[1.460,0.88],[1.4625,0.82],[1.465,0.84],
[1.470,0.83],[1.475,0.84],[1.480,0.84],[1.485,0.84],[1.490,0.84],[1.495,0.84],[1.500,0.85],[1.505,0.84],[1.510,0.84],[1.515,0.84],
[1.520,0.83],[1.525,0.83],[1.530,0.82],[1.535,0.82],[1.540,0.81],[1.545,0.80],[1.550,0.80],[1.555,0.79],[1.560,0.78],[1.565,0.78],
[1.570,0.77],[1.575,0.76],[1.580,0.76],[1.585,0.75],[1.590,0.74],[1.595,0.74],[1.600,0.73],[1.610,0.71],[1.620,0.69],[1.630,0.67],
[1.640,0.65],[1.650,0.63],[1.660,0.61],[1.670,0.59],[1.680,0.57],[1.690,0.55],[1.700,0.53],[1.710,0.51],[1.7135,0.50],[1.7235,0.47],
[1.7335,0.44],[1.7435,0.41],[1.7535,0.38],[1.7635,0.36],[1.7735,0.34],[1.7835,0.31],[1.7935,0.30],[1.8035,0.28],[1.8085,0.29],[1.8135,0.27],
[1.8185,0.29],[1.8235,0.31],[1.826,0.28],[1.8285,0.30],[1.8335,0.27],[1.8385,0.28],[1.8435,0.27],[1.8485,0.26],[1.8535,0.25],[1.8585,0.23],
[1.8635,0.22],[1.8685,0.22],[1.8735,0.25],[1.8785,0.26],[1.8835,0.27],[1.8885,0.26],[1.8935,0.26],[1.8985,0.25],[1.9035,0.24],[1.9085,0.25],
[1.9135,0.23],[1.9185,0.23],[1.9235,0.22],[1.9285,0.22],[1.9335,0.22],[1.9385,0.21],[1.9435,0.19],[1.9485,0.20],[1.9535,0.20],[1.9585,0.20],
[1.9635,0.20],[1.9685,0.20],[1.9735,0.20],[1.9835,0.21],[1.9935,0.21],[2.0035,0.21],[2.0135,0.21],[2.0235,0.21],[2.0335,0.20],[2.0585,0.19],
[2.0835,0.18],[2.1085,0.17],[2.1335,0.17],[2.1585,0.16],[2.1835,0.16],[2.2085,0.15],[2.2335,0.14],[2.2585,0.14],[2.2835,0.13],[2.3085,0.13],
[2.3335,0.13],[2.3585,0.13],[2.393,0.13],[2.399,0.13]
];

const FAMILY = "'DejaVu Serif'";
const LEG_SIZE = 32;
const TICK_LEN = 10.5;

function toPoints(pairs) {
  return pairs.map(p => ({ x: p[0], y: p[1] }));
}

function partsWidth(ctx, parts) {
  let w = 0;
  for (const p of parts) { ctx.font = p.font; w += ctx.measureText(p.text).width; }
  return w;
}

function drawParts(ctx, parts, x, y) {
  let cx = x;
  for (const p of parts) {
    ctx.font = p.font;
    ctx.fillText(p.text, cx, y + (p.dy || 0));
    cx += ctx.measureText(p.text).width;
  }
}

function plainLabel(text) {
  return [{ text, font: `${LEG_SIZE}px ${FAMILY}` }];
}

function modelLabel(params) {
  return [
    { text: 'T', font: `italic ${LEG_SIZE}px ${FAMILY}` },
    { text: 'eff', font: `${Math.round(LEG_SIZE * 0.68)}px ${FAMILY}`, dy: 5 },
    { text: params, font: `${LEG_SIZE}px ${FAMILY}` }
  ];
}

// frame, inward ticks, legend and axis titles
function decorPlugin(yTicks, entries) {
  return {
    id: 'decor',
    afterDatasetsDraw(chart) {
      const { ctx, chartArea: a } = chart;
      const xs = chart.scales.x, ys = chart.scales.y;
      ctx.save();

      ctx.strokeStyle = '#000';
      ctx.lineWidth = 1.5;
      ctx.beginPath();
      for (const v of xTicks) {
        const px = xs.getPixelForValue(v);
        ctx.moveTo(px, a.bottom); ctx.lineTo(px, a.bottom - TICK_LEN);
        ctx.moveTo(px, a.top); ctx.lineTo(px, a.top + TICK_LEN);
      }
      for (const v of yTicks) {
        const py = ys.getPixelForValue(v);
        ctx.moveTo(a.left, py); ctx.lineTo(a.left + TICK_LEN, py);
        ctx.moveTo(a.right, py); ctx.lineTo(a.right - TICK_LEN, py);
      }
      ctx.stroke();
      ctx.lineWidth = 2;
      ctx.strokeRect(a.left, a.top, a.right - a.left, a.bottom - a.top);

      // legend
      ctx.textAlign = 'left';
      ctx.textBaseline = 'alphabetic';
      const textW = Math.max(...entries.map(e => partsWidth(ctx, e.parts)));
      const bw = 104 + textW + 14, bh = 108;
      const bx = a.right - 15.7 - bw, by = a.top + 16.3;
      ctx.fillStyle = '#fff';
      ctx.fillRect(bx, by, bw, bh);
      ctx.lineWidth = 2.5;
      ctx.strokeStyle = '#000';
      ctx.strokeRect(bx, by, bw, bh);
      entries.forEach((e, i) => {
        const base = by + 38.2 + i * 47;
        ctx.strokeStyle = e.color;
        ctx.lineWidth = e.width;
        ctx.beginPath();
        ctx.moveTo(bx + 21.6, base - 11.5);
        ctx.lineTo(bx + 69, base - 11.5);
        ctx.stroke();
        ctx.fillStyle = '#000';
        drawParts(ctx, e.parts, bx + 104, base);
      });

      // x title
      const xt = [
        { text: 'Wavelength (', font: `40px ${FAMILY}` },
        { text: 'μ', font: `italic 40px ${FAMILY}` },
        { text: 'm)', font: `40px ${FAMILY}` }
      ];
      const xw = partsWidth(ctx, xt);
      ctx.fillStyle = '#000';
      drawParts(ctx, xt, (a.left + a.right) / 2 - xw / 2 - 2, a.bottom + 85);

      // y title
      ctx.save();
      ctx.translate(a.left - 80, (a.top + a.bottom) / 2);
      ctx.rotate(-Math.PI / 2);
      ctx.textAlign = 'center';
      ctx.font = `40px ${FAMILY}`;
      ctx.fillText('Normalized Flux', 0, 0);
      ctx.restore();

      ctx.restore();
    }
  };
}

function buildPanel(id, obs, model, color, yMin, yTicks, yAxisWidth, obsName, params) {
  const tickFont = { family: 'DejaVu Serif', size: 30 };
  const entries = [
    { color: '#000', width: 2.2, parts: plainLabel(obsName) },
    { color: color, width: 2.8, parts: modelLabel(params) }
  ];
  return new Chart(document.getElementById(id), {
    type: 'line',
    data: {
      datasets: [
        { data: toPoints(model), borderColor: color, borderWidth: 2.8, pointRadius: 0, tension: 0, spanGaps: false, clip: 0, borderJoinStyle: 'round' },
        { data: toPoints(obs), borderColor: '#000', borderWidth: 2.3, pointRadius: 0, tension: 0, spanGaps: false, clip: 0, borderJoinStyle: 'round' }
      ]
    },
    options: {
      responsive: false,
      animation: false,
      devicePixelRatio: 1,
      events: [],
      layout: { padding: { top: 30.5, right: 21, bottom: 0, left: 0 } },
      plugins: { legend: { display: false }, tooltip: { enabled: false } },
      scales: {
        x: {
          type: 'linear', min: 1.0, max: 2.399,
          afterBuildTicks: s => { s.ticks = xTicks.map(v => ({ value: v })); },
          afterFit: s => { s.height = 95.5; },
          grid: { display: false, drawTicks: false },
          border: { display: false },
          ticks: { color: '#000', font: tickFont, padding: 8.5, maxRotation: 0, autoSkip: false, callback: v => v.toFixed(1) }
        },
        y: {
          type: 'linear', min: yMin, max: 1.5,
          afterBuildTicks: s => { s.ticks = yTicks.map(v => ({ value: v })); },
          afterFit: s => { s.width = yAxisWidth; },
          grid: { display: false, drawTicks: false },
          border: { display: false },
          ticks: { color: '#000', font: tickFont, padding: 11.5, autoSkip: false, callback: v => v.toFixed(1) }
        }
      }
    },
    plugins: [decorPlugin(yTicks, entries)]
  });
}

buildPanel('tl', wisea0414, model1200g55, '#87CEFA', -0.3, yTicksLeft, 146.5, nameObsA, paramsTL);
buildPanel('tr', wisea1810, model1200g50, '#87CEFA', 0.0, yTicksRight, 146.7, nameObsB, paramsTR);
buildPanel('bl', wisea0414, model1400g55, '#FF8C00', -0.3, yTicksLeft, 146.5, nameObsA, paramsBL);
buildPanel('br', wisea1810, model1400g50, '#FF8C00', 0.0, yTicksRight, 146.7, nameObsB, paramsBR);
</script>
</body>
</html>
